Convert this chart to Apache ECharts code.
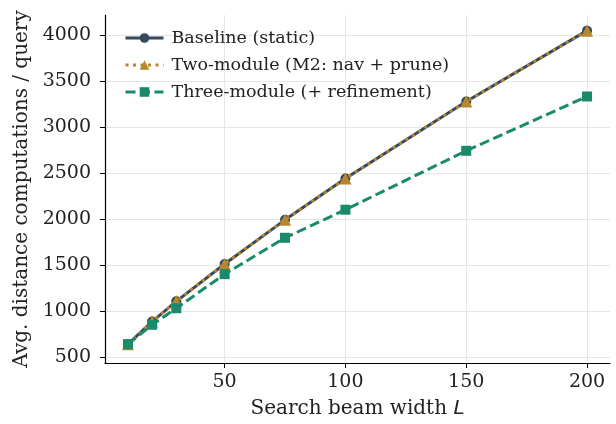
<!DOCTYPE html>
<html>
<head>
<meta charset="utf-8">
<script src="https://cdn.jsdelivr.net/npm/echarts@6/dist/echarts.min.js"></script>
<style>
  html, body { margin: 0; padding: 0; background: #fff; }
  #main { width: 616px; height: 424px; }
</style>
</head>
<body>
<div id="main"></div>
<script>
// beam widths L
var beamWidths = [10, 20, 30, 50, 75, 100, 150, 200];
// avg distance computations per query
var baseline = [640, 885, 1105, 1510, 1990, 2440, 3275, 4045];
var twoModule = [640, 885, 1105, 1510, 1990, 2440, 3275, 4045];
var threeModule = [640, 850, 1030, 1400, 1795, 2100, 2740, 3330];

var xTicks = [50, 100, 150, 200];
var yTicks = [500, 1000, 1500, 2000, 2500, 3000, 3500, 4000];

function pairs(xs, ys) {
  return xs.map(function (x, i) { return [x, ys[i]]; });
}

var font = 'DejaVu Serif';
var plain = function (v) { return String(v); };

var chart = echarts.init(document.getElementById('main'));

var option = {
  animation: false,
  textStyle: { fontFamily: font },
  grid: { left: 105, right: 6, top: 15, bottom: 58 },
  legend: {
    left: 119,
    top: 24,
    orient: 'vertical',
    itemWidth: 38,
    itemHeight: 12,
    itemGap: 9,
    lineStyle: { width: 3 },
    textStyle: { fontFamily: font, fontSize: 17.5, color: '#222', padding: [0, 0, 0, 3] },
    data: ['Baseline (static)', 'Two-module (M2: nav + prune)', 'Three-module (+ refinement)']
  },
  xAxis: {
    type: 'value',
    min: 0.5,
    max: 209.5,
    name: 'Search beam width {i|L}',
    nameLocation: 'middle',
    nameGap: 36,
    nameTextStyle: {
      fontFamily: font, fontSize: 20, color: '#222',
      rich: { i: { fontFamily: 'DejaVu Sans', fontStyle: 'italic', fontSize: 20, color: '#222' } }
    },
    axisLine: { lineStyle: { color: '#000', width: 1.2 } },
    axisTick: { inside: false, length: 5, lineStyle: { color: '#000' }, customValues: xTicks },
    axisLabel: { fontFamily: font, fontSize: 19, color: '#222', margin: 10, formatter: plain, customValues: xTicks },
    splitLine: { show: true, lineStyle: { color: '#e6e6e6', width: 1 } }
  },
  yAxis: {
    type: 'value',
    min: 435,
    max: 4215,
    name: 'Avg. distance computations / query',
    nameLocation: 'middle',
    nameGap: 72,
    nameTextStyle: { fontFamily: font, fontSize: 20, color: '#222' },
    axisLine: { show: true, lineStyle: { color: '#000', width: 1.2 } },
    axisTick: { show: true, inside: false, length: 5, lineStyle: { color: '#000' }, customValues: yTicks },
    axisLabel: { fontFamily: font, fontSize: 19, color: '#222', margin: 14, formatter: plain, customValues: yTicks },
    splitLine: { show: true, lineStyle: { color: '#e6e6e6', width: 1 } }
  },
  series: [
    {
      name: 'Baseline (static)',
      type: 'line',
      data: pairs(beamWidths, baseline),
      symbol: 'circle',
      symbolSize: 10,
      lineStyle: { color: '#34495e', width: 3 },
      itemStyle: { color: '#34495e' },
      z: 2
    },
    {
      name: 'Two-module (M2: nav + prune)',
      type: 'line',
      data: pairs(beamWidths, twoModule),
      symbol: 'triangle',
      symbolSize: 12,
      lineStyle: { color: '#b8862b', width: 3, type: [3, 4.5] },
      itemStyle: { color: '#b8862b' },
      z: 3
    },
    {
      name: 'Three-module (+ refinement)',
      type: 'line',
      data: pairs(beamWidths, threeModule),
      symbol: 'rect',
      symbolSize: 10,
      lineStyle: { color: '#1b8a6b', width: 3, type: [10, 4.5] },
      itemStyle: { color: '#1b8a6b' },
      z: 4
    }
  ]
};

chart.setOption(option);
</script>
</body>
</html>
